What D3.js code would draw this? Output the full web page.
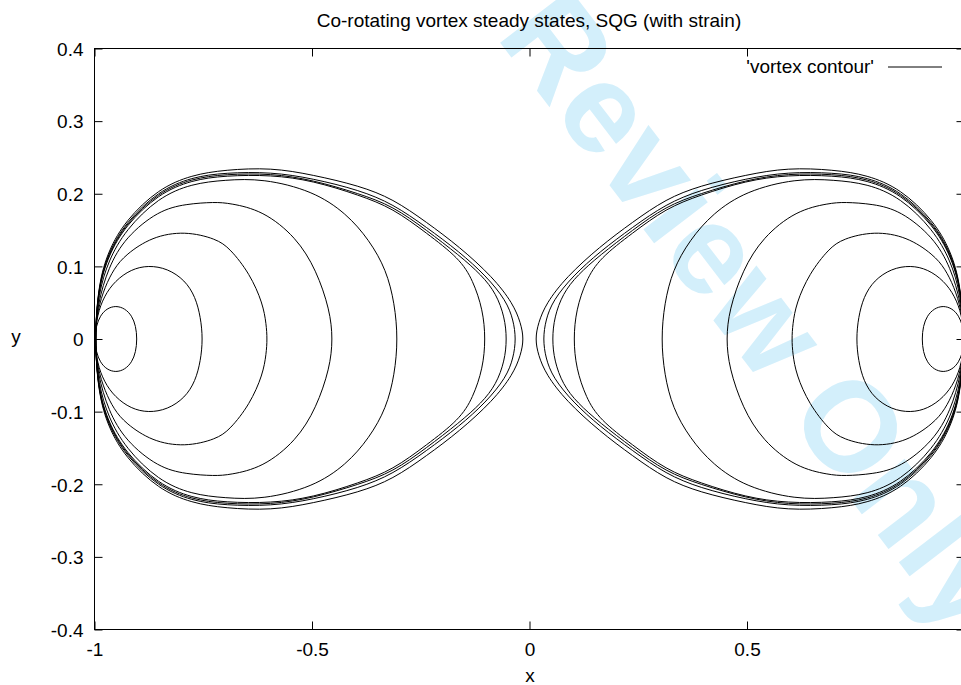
<!DOCTYPE html>
<html>
<head>
<meta charset="utf-8">
<script src="https://cdn.jsdelivr.net/npm/d3@7"></script>
<style>
  html, body { margin: 0; padding: 0; background: #ffffff; }
  svg { display: block; }
  text { font-family: "Liberation Sans", Arial, Helvetica, sans-serif; }
</style>
</head>
<body>
<script>
// ---------------- data ----------------
const titleText = "Co-rotating vortex steady states, SQG (with strain)";
const xLabel = "x";
const yLabel = "y";
const legendLabel = "'vortex contour'";
const watermarkText = "Review Only";

const xTicks = [-1, -0.5, 0, 0.5, 1];
const xTickLabels = ["-1", "-0.5", "0", "0.5", ""];   // the "1" label falls outside the picture
const yTicks = [-0.4, -0.3, -0.2, -0.1, 0, 0.1, 0.2, 0.3, 0.4];
const yTickLabels = ["-0.4", "-0.3", "-0.2", "-0.1", "0", "0.1", "0.2", "0.3", "0.4"];

// Upper halves of the left vortex contours, [x, y], from x=-1 round to the right tip.
// Contours are symmetric in y; the right vortex is the mirror image in x.
const contour1 = [[-1,0],[-0.996,0.018],[-0.987,0.032],[-0.972,0.042],[-0.951,0.046],[-0.930,0.042],[-0.914,0.032],[-0.905,0.018],[-0.902,0]];
const contour2 = [[-1,0],[-0.994,0.033],[-0.978,0.059],[-0.953,0.080],[-0.916,0.096],[-0.876,0.1015],[-0.832,0.097],[-0.792,0.081],[-0.768,0.058],[-0.756,0.030],[-0.751,0]];
const contour3 = [[-1,0],[-0.993,0.040],[-0.976,0.072],[-0.955,0.097],[-0.929,0.116],[-0.868,0.141],[-0.792,0.1487],[-0.720,0.138],[-0.689,0.125],[-0.643,0.090],[-0.613,0.049],[-0.605,0.020],[-0.603,0]];
const contour4 = [[-1,0],[-0.993,0.048],[-0.968,0.099],[-0.929,0.140],[-0.853,0.177],[-0.790,0.186],[-0.723,0.1886],[-0.689,0.187],[-0.613,0.177],[-0.536,0.140],[-0.490,0.095],[-0.459,0.040],[-0.452,0]];
const contour5 = [[-1,0],[-0.991,0.063],[-0.968,0.108],[-0.929,0.150],[-0.853,0.195],[-0.776,0.214],[-0.700,0.219],[-0.613,0.221],[-0.498,0.204],[-0.421,0.173],[-0.368,0.136],[-0.329,0.095],[-0.310,0.049],[-0.3025,0]];
const contour6 = [[-1,0],[-0.991,0.070],[-0.968,0.115],[-0.929,0.156],[-0.853,0.200],[-0.776,0.219],[-0.700,0.225],[-0.593,0.226],[-0.498,0.218],[-0.391,0.198],[-0.314,0.180],[-0.237,0.146],[-0.161,0.111],[-0.130,0.081],[-0.107,0.040],[-0.101,0]];
const contour7 = [[-1,0],[-0.991,0.072],[-0.968,0.117],[-0.929,0.158],[-0.853,0.202],[-0.776,0.221],[-0.700,0.227],[-0.593,0.228],[-0.498,0.219],[-0.391,0.200],[-0.314,0.183],[-0.237,0.150],[-0.161,0.115],[-0.110,0.088],[-0.0765,0.0626],[-0.057,0.030],[-0.052,0]];
const contour8 = [[-1,0],[-0.991,0.074],[-0.968,0.119],[-0.929,0.160],[-0.853,0.204],[-0.776,0.223],[-0.700,0.229],[-0.593,0.230],[-0.498,0.221],[-0.391,0.205],[-0.314,0.186],[-0.237,0.154],[-0.161,0.120],[-0.100,0.087],[-0.0535,0.053],[-0.037,0.026],[-0.031,0]];
const contour9 = [[-1,0],[-0.991,0.076],[-0.968,0.122],[-0.929,0.163],[-0.853,0.207],[-0.776,0.226],[-0.700,0.233],[-0.593,0.236],[-0.498,0.226],[-0.391,0.211],[-0.314,0.193],[-0.237,0.161],[-0.161,0.127],[-0.084,0.085],[-0.038,0.049],[-0.020,0.022],[-0.013,0]];

const leftContours = [contour1, contour2, contour3, contour4, contour5, contour6, contour7, contour8, contour9];

// ---------------- chart ----------------
const W = 961, H = 685;
const fontSize = 19;

const x = d3.scaleLinear().domain([-1, 1]).range([94.5, 964.5]);
const y = d3.scaleLinear().domain([-0.4, 0.4]).range([629.5, 48.5]);

const svg = d3.select("body").append("svg")
  .attr("width", W).attr("height", H)
  .attr("viewBox", `0 0 ${W} ${H}`);

// watermark (behind everything)
svg.append("text")
  .attr("transform", "translate(495,36) rotate(52.5)")
  .attr("font-size", 128)
  .attr("font-weight", "bold")
  .attr("fill", "#d3effb")
  .text(watermarkText);

// closed loops: upper half, then the mirrored lower half
function closedLoop(upper) {
  const lower = upper.slice(1, -1).reverse().map(([px, py]) => [px, -py]);
  return upper.concat(lower);
}
const loops = [];
leftContours.forEach(c => {
  const loop = closedLoop(c);
  loops.push(loop);
  loops.push(loop.map(([px, py]) => [-px, py]));
});

const line = d3.line()
  .x(d => x(d[0]))
  .y(d => y(d[1]))
  .curve(d3.curveBasisClosed);

svg.append("g")
  .selectAll("path")
  .data(loops)
  .join("path")
  .attr("d", line)
  .attr("fill", "none")
  .attr("stroke", "#000")
  .attr("stroke-width", 1);

// axes
const tickLen = 8;
const xFmt = d => xTickLabels[xTicks.indexOf(d)];
const yFmt = d => yTickLabels[yTicks.indexOf(d)];

const gLeft = svg.append("g").attr("transform", `translate(${x(-1)},0)`)
  .call(d3.axisLeft(y).tickValues(yTicks).tickFormat(yFmt).tickSize(-tickLen).tickPadding(11));
const gRight = svg.append("g").attr("transform", `translate(${x(1)},0)`)
  .call(d3.axisRight(y).tickValues(yTicks).tickFormat("").tickSize(-tickLen));
const gBottom = svg.append("g").attr("transform", `translate(0,${y(-0.4)})`)
  .call(d3.axisBottom(x).tickValues(xTicks).tickFormat(xFmt).tickSize(-tickLen).tickPadding(13));
const gTop = svg.append("g").attr("transform", `translate(0,${y(0.4)})`)
  .call(d3.axisTop(x).tickValues(xTicks).tickFormat("").tickSize(-tickLen));

[gLeft, gRight, gBottom, gTop].forEach(g => {
  g.select(".domain").remove();
  g.selectAll(".tick line").attr("stroke", "#000").attr("stroke-width", 1);
  g.selectAll(".tick text")
    .attr("font-family", "'Liberation Sans', Arial, sans-serif")
    .attr("font-size", fontSize)
    .attr("fill", "#000");
});
gLeft.selectAll(".tick text").attr("dy", "0.36em");

// frame
svg.append("rect")
  .attr("x", x(-1)).attr("y", y(0.4))
  .attr("width", x(1) - x(-1)).attr("height", y(-0.4) - y(0.4))
  .attr("fill", "none").attr("stroke", "#000").attr("stroke-width", 1);

// title and axis labels
svg.append("text")
  .attr("x", 529).attr("y", 27)
  .attr("text-anchor", "middle")
  .attr("font-size", fontSize)
  .text(titleText);

svg.append("text")
  .attr("x", 530).attr("y", 682)
  .attr("text-anchor", "middle")
  .attr("font-size", fontSize)
  .text(xLabel);

svg.append("text")
  .attr("x", 16).attr("y", 343)
  .attr("text-anchor", "middle")
  .attr("font-size", fontSize)
  .text(yLabel);

// legend
svg.append("text")
  .attr("x", 874).attr("y", 73)
  .attr("text-anchor", "end")
  .attr("font-size", fontSize)
  .text(legendLabel);
svg.append("line")
  .attr("x1", 888).attr("x2", 942)
  .attr("y1", 67).attr("y2", 67)
  .attr("stroke", "#000").attr("stroke-width", 1);
</script>
</body>
</html>
